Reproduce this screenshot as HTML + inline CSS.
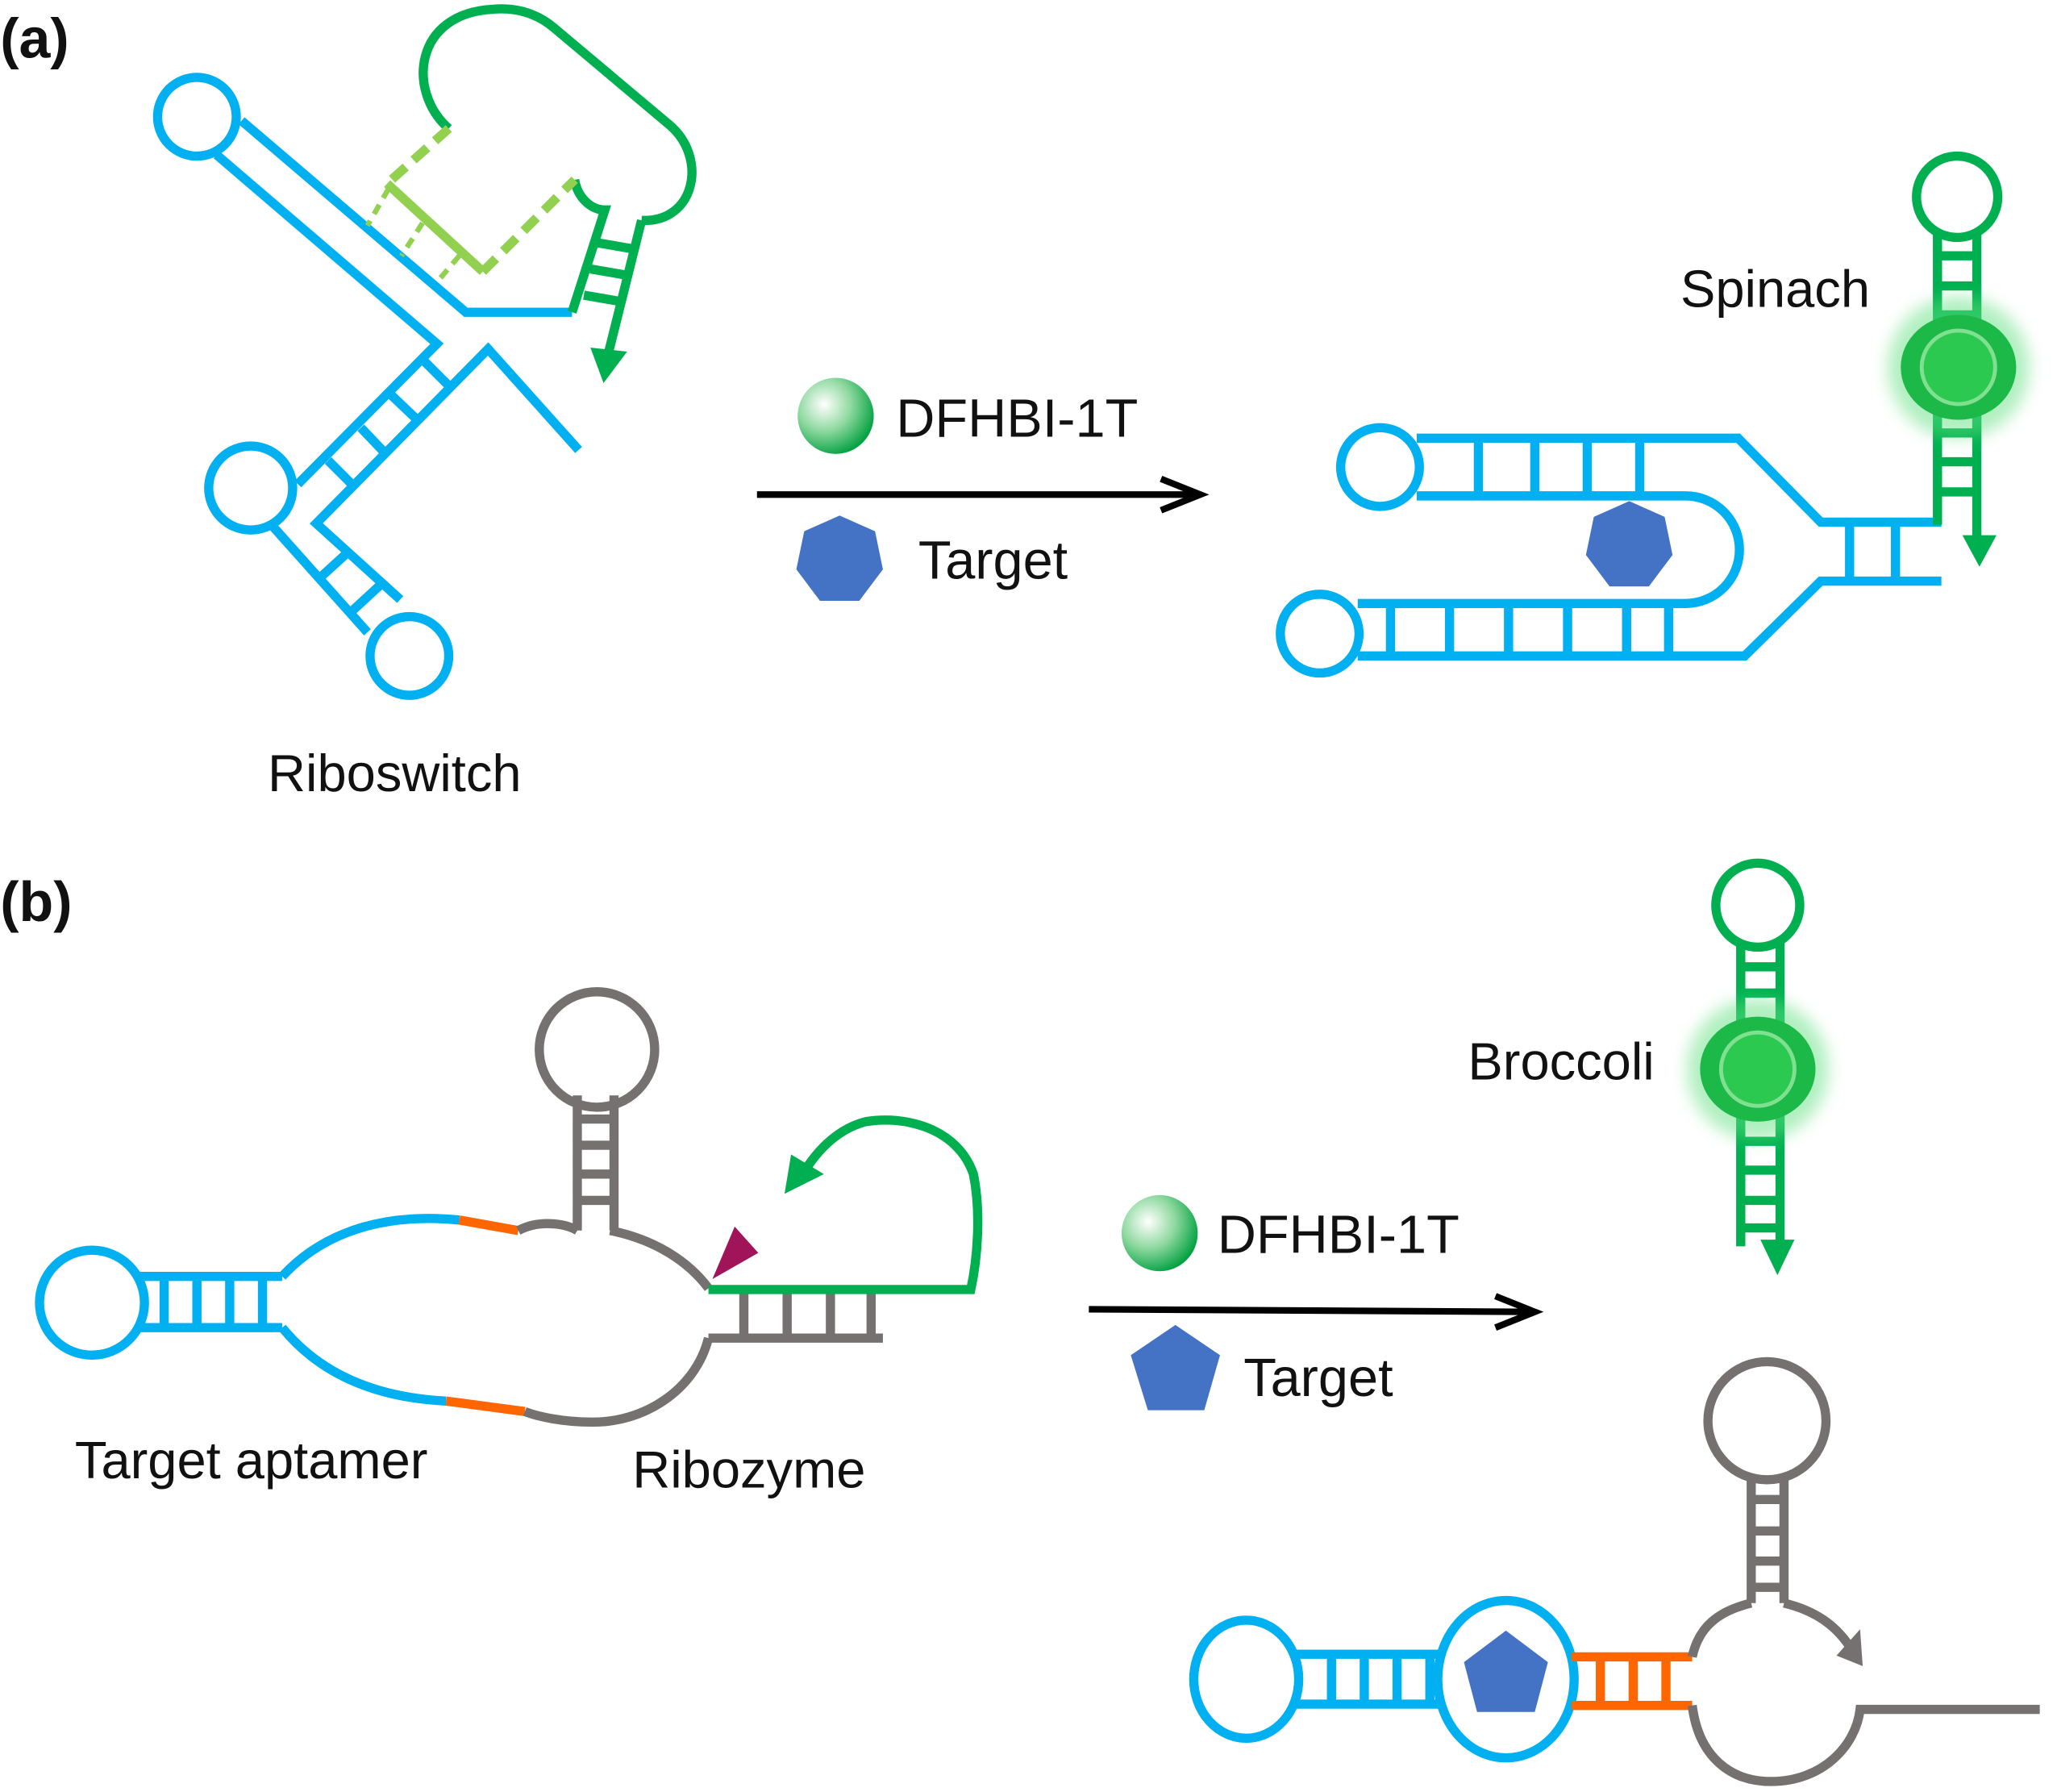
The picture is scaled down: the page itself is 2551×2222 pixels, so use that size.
<!DOCTYPE html>
<html><head><meta charset="utf-8"><style>
html,body{margin:0;padding:0;background:#fff}
svg{display:block}
text{font-family:"Liberation Sans",sans-serif;fill:#111}
</style></head><body>
<svg width="2551" height="2222" viewBox="0 0 1568 1366" xmlns="http://www.w3.org/2000/svg">
<defs>
<radialGradient id="ball" cx="0.35" cy="0.35" r="0.7">
<stop offset="0" stop-color="#ffffff"/><stop offset="0.5" stop-color="#8fd9a0"/><stop offset="1" stop-color="#00a040"/></radialGradient>
<filter id="blur"><feGaussianBlur stdDeviation="6"/></filter>
</defs>
<g fill="none" stroke-width="7" stroke-linejoin="miter">
<!-- (a) riboswitch -->
<g stroke="#00b0f0">
<circle cx="150" cy="89" r="30"/>
<polyline points="184,92 355,238 436,238"/>
<polyline points="165,118 333,262 227,369"/>
<polyline points="441,343 372,266 241,399 305,457"/>
<circle cx="191" cy="372" r="32"/>
<polyline points="205,398 280,482"/>
<circle cx="312" cy="500" r="30"/>
<line x1="323" y1="275" x2="342" y2="294"/><line x1="298" y1="301" x2="319" y2="321"/>
<line x1="275" y1="326" x2="294" y2="346"/><line x1="250" y1="351" x2="270" y2="371"/>
<line x1="241" y1="443" x2="264" y2="422"/><line x1="268" y1="466" x2="293" y2="443"/>
</g>
<g stroke="#00b050">
<path d="M342,98 C310,70 315,10 376,7 C400,5 415,15 422,21 L510,95 C540,120 530,170 489,168"/>
<path d="M438,137 C440,150 450,160 461,160 L436,238"/>
<path d="M489,168 L463,272"/>
<line x1="455" y1="185" x2="484" y2="190"/><line x1="450" y1="205" x2="479" y2="210"/><line x1="445" y1="225" x2="474" y2="230"/>
</g>
<polygon points="450,265 478,268 460,292" fill="#00b050"/>
<g stroke="#92d050">
<line x1="342" y1="98" x2="295" y2="140" stroke-dasharray="14,8"/>
<line x1="295" y1="140" x2="368" y2="207"/>
<line x1="368" y1="207" x2="438" y2="137" stroke-dasharray="14,8"/>
<line x1="296" y1="144" x2="280" y2="172" stroke-width="4" stroke-dasharray="8,6"/>
<line x1="322" y1="170" x2="306" y2="195" stroke-width="4" stroke-dasharray="8,6"/>
<line x1="350" y1="195" x2="333" y2="215" stroke-width="4" stroke-dasharray="8,6"/>
</g>
<!-- arrows -->
<g stroke="#000" stroke-width="5">
<line x1="577" y1="377" x2="913" y2="377"/><polyline points="885,365 915,377 885,389"/>
<line x1="830" y1="998" x2="1168" y2="1000"/><polyline points="1140,988 1170,1000 1140,1012"/>
</g>
<!-- (a) spinach -->
<g stroke="#00b0f0">
<circle cx="1052" cy="356" r="30"/>
<polyline points="1080,334 1325,334 1388,398 1480,398"/>
<polyline points="1480,443 1388,443 1330,500 1035,500"/>
<path d="M1080,378 L1285,378 A41,41 0 0 1 1285,460 L1035,460"/>
<circle cx="1006" cy="483" r="30"/>
<line x1="1127" y1="334" x2="1127" y2="378"/><line x1="1170" y1="334" x2="1170" y2="378"/><line x1="1210" y1="334" x2="1210" y2="378"/><line x1="1250" y1="334" x2="1250" y2="378"/>
<line x1="1060" y1="460" x2="1060" y2="500"/><line x1="1105" y1="460" x2="1105" y2="500"/><line x1="1150" y1="460" x2="1150" y2="500"/><line x1="1195" y1="460" x2="1195" y2="500"/><line x1="1240" y1="460" x2="1240" y2="500"/><line x1="1272" y1="460" x2="1272" y2="500"/>
<line x1="1410" y1="398" x2="1410" y2="443"/><line x1="1445" y1="398" x2="1445" y2="443"/>
</g>
<g stroke="#00b050">
<circle cx="1492" cy="150" r="31"/>
<line x1="1477" y1="177" x2="1477" y2="400"/><line x1="1507" y1="177" x2="1507" y2="415"/>
<line x1="1477" y1="195" x2="1507" y2="195"/><line x1="1477" y1="218" x2="1507" y2="218"/><line x1="1477" y1="240" x2="1507" y2="240"/>
<line x1="1477" y1="330" x2="1507" y2="330"/><line x1="1477" y1="352" x2="1507" y2="352"/><line x1="1477" y1="375" x2="1507" y2="375"/>
</g>
<polygon points="1496,408 1522,408 1509,432" fill="#00b050"/>
<!-- (b) left -->
<g stroke="#00b0f0">
<circle cx="70" cy="993" r="40"/>
<line x1="105" y1="973" x2="215" y2="973"/><line x1="105" y1="1012" x2="215" y2="1012"/>
<line x1="125" y1="973" x2="125" y2="1012"/><line x1="150" y1="973" x2="150" y2="1012"/><line x1="175" y1="973" x2="175" y2="1012"/><line x1="200" y1="973" x2="200" y2="1012"/>
<path d="M215,973 C250,935 300,925 350,930"/>
<path d="M215,1012 C250,1055 300,1066 340,1068"/>
</g>
<g stroke="#ff6600">
<path d="M350,930 L395,938"/><path d="M340,1068 L400,1076"/>
</g>
<g stroke="#767171">
<path d="M395,938 C410,930 430,932 440,938"/>
<path d="M465,938 C500,945 525,962 540,982"/>
<path d="M540,1020 C530,1060 490,1085 450,1084 C430,1084 410,1080 400,1076"/>
<line x1="440" y1="938" x2="440" y2="835"/><line x1="468" y1="938" x2="468" y2="835"/>
<circle cx="455" cy="800" r="44"/>
<line x1="440" y1="853" x2="468" y2="853"/><line x1="440" y1="873" x2="468" y2="873"/><line x1="440" y1="895" x2="468" y2="895"/><line x1="440" y1="915" x2="468" y2="915"/>
<line x1="540" y1="1020" x2="673" y2="1020"/>
<line x1="567" y1="983" x2="567" y2="1020"/><line x1="600" y1="983" x2="600" y2="1020"/><line x1="633" y1="983" x2="633" y2="1020"/><line x1="664" y1="983" x2="664" y2="1020"/>
</g>
<g stroke="#00b050">
<path d="M540,983 L740,983 C745,960 748,925 742,895 C730,860 690,850 660,855 C640,860 625,875 615,890"/>
</g>
<polygon points="598,910 603,880 628,895" fill="#00b050"/>
<polygon points="543,975 560,935 578,955" fill="#a0155a"/>
<!-- broccoli -->
<g stroke="#00b050">
<circle cx="1340" cy="690" r="32"/>
<line x1="1327" y1="718" x2="1327" y2="950"/><line x1="1357" y1="718" x2="1357" y2="950"/>
<line x1="1327" y1="737" x2="1357" y2="737"/><line x1="1327" y1="757" x2="1357" y2="757"/>
<line x1="1327" y1="870" x2="1357" y2="870"/><line x1="1327" y1="892" x2="1357" y2="892"/><line x1="1327" y1="915" x2="1357" y2="915"/><line x1="1327" y1="936" x2="1357" y2="936"/>
</g>
<polygon points="1342,945 1368,945 1355,972" fill="#00b050"/>
<!-- bottom structure -->
<g stroke="#00b0f0">
<ellipse cx="950" cy="1280" rx="40" ry="45"/>
<line x1="985" y1="1261" x2="1100" y2="1261"/><line x1="985" y1="1299" x2="1100" y2="1299"/>
<line x1="1015" y1="1261" x2="1015" y2="1299"/><line x1="1040" y1="1261" x2="1040" y2="1299"/><line x1="1065" y1="1261" x2="1065" y2="1299"/><line x1="1090" y1="1261" x2="1090" y2="1299"/>
<ellipse cx="1148" cy="1280" rx="52" ry="60"/>
</g>
<g stroke="#ff6600">
<line x1="1198" y1="1263" x2="1290" y2="1263"/><line x1="1198" y1="1300" x2="1290" y2="1300"/>
<line x1="1220" y1="1263" x2="1220" y2="1300"/><line x1="1245" y1="1263" x2="1245" y2="1300"/><line x1="1270" y1="1263" x2="1270" y2="1300"/>
</g>
<g stroke="#767171">
<path d="M1290,1263 C1295,1240 1310,1228 1335,1222"/>
<path d="M1290,1300 C1295,1340 1320,1358 1350,1358 C1390,1358 1415,1330 1418,1303 L1555,1303"/>
<path d="M1360,1222 C1385,1228 1400,1240 1410,1255"/>
<line x1="1335" y1="1222" x2="1335" y2="1125"/><line x1="1360" y1="1222" x2="1360" y2="1125"/>
<ellipse cx="1347" cy="1083" rx="45" ry="45"/>
<line x1="1335" y1="1143" x2="1360" y2="1143"/><line x1="1335" y1="1167" x2="1360" y2="1167"/><line x1="1335" y1="1190" x2="1360" y2="1190"/><line x1="1335" y1="1210" x2="1360" y2="1210"/>
</g>
<polygon points="1400,1262 1420,1270 1418,1242" fill="#767171"/>
</g>
<!-- shapes -->
<polygon points="640,393 667,405 673,434 655,458 625,458 607,434 613,405" fill="#4472c4"/>
<polygon points="1242,382 1269,394 1275,423 1257,447 1227,447 1209,423 1215,394" fill="#4472c4"/>
<polygon points="896,1010 930,1033 918,1075 875,1075 862,1033" fill="#4472c4"/>
<polygon points="1148,1243 1180,1267 1170,1305 1126,1305 1116,1267" fill="#4472c4"/>
<circle cx="637" cy="317" r="29" fill="url(#ball)"/>
<circle cx="884" cy="940" r="29" fill="url(#ball)"/>
<g>
<circle cx="1493" cy="280" r="54" fill="#60e080" opacity="0.5" filter="url(#blur)"/>
<ellipse cx="1493" cy="280" rx="44" ry="40" fill="#1cb848"/>
<circle cx="1493" cy="280" r="28" fill="#2cc950" stroke="#7fe090" stroke-width="3"/>
<circle cx="1340" cy="815" r="54" fill="#60e080" opacity="0.5" filter="url(#blur)"/>
<ellipse cx="1340" cy="815" rx="44" ry="40" fill="#1cb848"/>
<circle cx="1340" cy="815" r="28" fill="#2cc950" stroke="#7fe090" stroke-width="3"/>
</g>
<!-- text -->
<text x="0" y="44" font-size="43" font-weight="bold">(a)</text>
<text x="0" y="702" font-size="43" font-weight="bold">(b)</text>
<text x="204" y="603" font-size="40">Riboswitch</text>
<text x="683" y="333" font-size="41">DFHBI-1T</text>
<text x="700" y="441" font-size="41">Target</text>
<text x="1281" y="234" font-size="40">Spinach</text>
<text x="57" y="1127" font-size="40">Target aptamer</text>
<text x="482" y="1134" font-size="40">Ribozyme</text>
<text x="928" y="955" font-size="41">DFHBI-1T</text>
<text x="948" y="1064" font-size="41">Target</text>
<text x="1119" y="823" font-size="40">Broccoli</text>
</svg>
</body></html>
